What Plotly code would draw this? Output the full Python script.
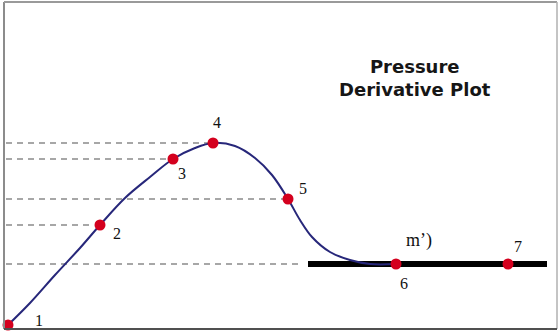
import plotly.graph_objects as go

# Curve (arbitrary units)
curve_x = [4, 26, 51, 76, 96, 121, 146, 169, 191, 209, 231, 251, 268, 284, 296, 308, 326, 346, 366, 392]
curve_y = [4, 26, 54, 81, 104, 131, 152, 170, 181, 186, 183, 171, 154, 130, 109, 92, 77, 69, 65, 65]

# Numbered points
point_labels = ["1", "2", "3", "4", "5", "6", "7"]
point_x = [4, 96, 169, 209, 284, 392, 504]
point_y = [4, 104, 170, 186, 130, 65, 65]

# Horizontal stabilisation line (m')
flat_x = [304, 543]
flat_y = [65, 65]

fig = go.Figure()

# dashed reference lines from left edge to points
dash_ends = [(205, 186), (165, 170), (284, 130), (90, 104), (296, 65)]
for xe, ye in dash_ends:
    fig.add_shape(type="line", xref="x", yref="y", x0=2, x1=xe, y0=ye, y1=ye,
                  line=dict(color="#8a8a8a", width=1.5, dash="6px,5px"), layer="below")

fig.add_trace(go.Scatter(x=flat_x, y=flat_y, mode="lines",
                         line=dict(color="black", width=6), hoverinfo="skip"))
fig.add_trace(go.Scatter(x=curve_x, y=curve_y, mode="lines",
                         line=dict(color="#27277a", width=2, shape="spline", smoothing=1.0),
                         hoverinfo="skip"))
fig.add_trace(go.Scatter(x=point_x, y=point_y, mode="markers",
                         marker=dict(color="#d4001e", size=11), cliponaxis=False,
                         hoverinfo="skip"))

# label offsets in pixels (xshift, yshift)
offsets = [(31, 5), (17, -8), (9, -14), (4, 21), (15, 11), (8, -19), (10, 18)]
for lab, px, py, (dx, dy) in zip(point_labels, point_x, point_y, offsets):
    fig.add_annotation(x=px, y=py, xref="x", yref="y", text=lab, showarrow=False,
                       xshift=dx, yshift=dy,
                       font=dict(family="Liberation Serif", size=16, color="#111"))

fig.add_annotation(x=392, y=65, xref="x", yref="y", text="m’)", showarrow=False,
                   xshift=23, yshift=24,
                   font=dict(family="Liberation Serif", size=18, color="#111"))

fig.add_annotation(x=0.744, y=0.768, xref="paper", yref="paper",
                   xanchor="center", yanchor="middle",
                   text="<b>Pressure</b><br><b>Derivative Plot</b>", showarrow=False,
                   align="center",
                   font=dict(family="DejaVu Sans", size=18, color="#161616"))

# frame
fig.add_shape(type="line", xref="paper", yref="paper", x0=0, x1=0, y0=0, y1=1,
              line=dict(color="#8c8c8c", width=2))
fig.add_shape(type="line", xref="paper", yref="paper", x0=0, x1=1, y0=1, y1=1,
              line=dict(color="#9a9a9a", width=2))
fig.add_shape(type="line", xref="paper", yref="paper", x0=1, x1=1, y0=0, y1=1,
              line=dict(color="#b0b0b0", width=1.5))
fig.add_shape(type="line", xref="paper", yref="paper", x0=0, x1=1, y0=0, y1=0,
              line=dict(color="#505050", width=2))

fig.update_layout(
    width=560, height=331,
    margin=dict(l=4, r=3, t=2, b=2),
    paper_bgcolor="white", plot_bgcolor="white",
    showlegend=False,
    xaxis=dict(range=[0, 553], visible=False, fixedrange=True),
    yaxis=dict(range=[0, 327], visible=False, fixedrange=True),
)

fig.write_html("out.html", config={"displayModeBar": False},
               post_script="document.body.style.margin='0';document.body.style.overflow='hidden';")
